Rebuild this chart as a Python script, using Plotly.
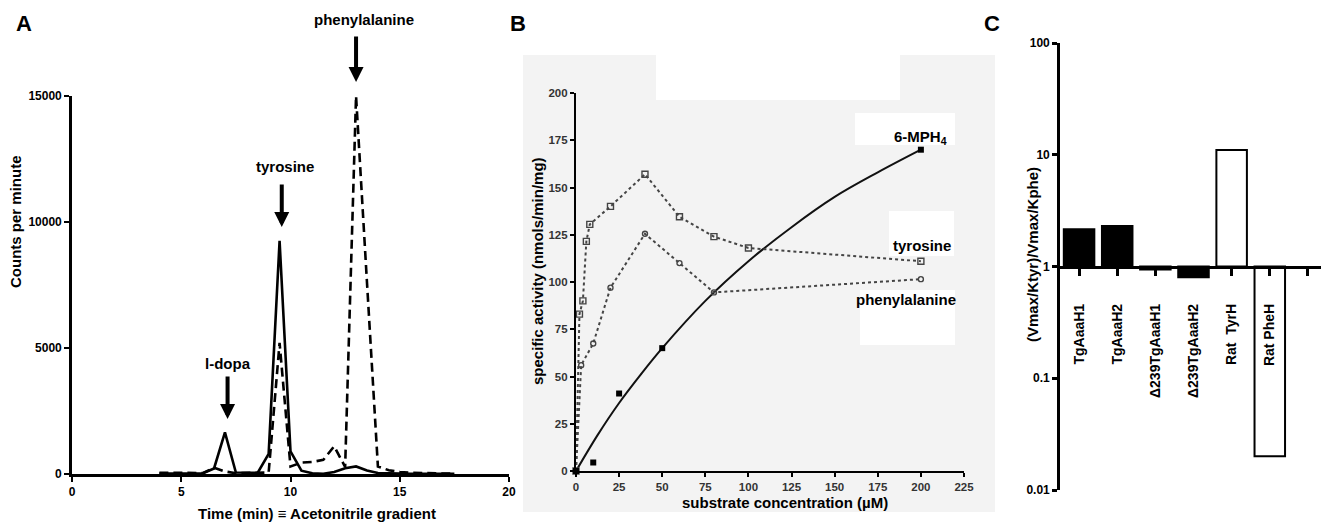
import plotly.graph_objects as go

# The page body has an 8px margin, so the figure is drawn 8px in from the window edge.
OFF = 8
W, H = 1329 - OFF, 526 - OFF
FONT = "Liberation Sans, Arial, sans-serif"


def fx(p):
    return (p - OFF) / W


def fy(p):
    return 1 - (p - OFF) / H


# ---------------- Panel A data (radio-HPLC trace) ----------------
time_min = [4.0, 4.5, 5.0, 5.5, 6.0, 6.5, 7.0, 7.5, 8.0, 8.5, 9.0, 9.5, 10.0, 10.5,
            11.0, 11.5, 12.0, 12.5, 13.0, 13.5, 14.0, 14.5, 15.0, 15.5, 16.0, 16.5, 17.0, 17.5]
cpm_solid = [20, 20, 20, 20, 30, 220, 1650, 60, 50, 50, 800, 9250, 900, 130,
             30, 10, 80, 230, 300, 140, 40, 20, 20, 10, 10, 20, 10, 10]
cpm_dashed = [50, 40, 40, 40, 40, 250, 100, 30, 40, 40, 60, 5200, 300, 450,
              480, 560, 1100, 280, 15000, 7600, 300, 150, 80, 50, 40, 50, 20, 10]
a_xticks = [0, 5, 10, 15, 20]
a_yticks = [0, 5000, 10000, 15000]

# ---------------- Panel B data (kinetics) ----------------
tyr_conc = [0, 2, 4, 6, 8, 20, 40, 60, 80, 100, 200]
tyr_act = [0, 83, 90, 121.5, 130.5, 140, 157, 134.5, 124, 118, 111]
phe_conc = [0, 3, 10, 20, 40, 60, 80, 200]
phe_act = [0, 56, 67.5, 97, 125.5, 110, 94.5, 101.5]
mph_conc = [0, 10, 25, 50, 200]
mph_act = [0, 4.5, 41, 65, 170]
fit_conc = [0, 12.5, 25, 37.5, 50, 75, 100, 125, 150, 175, 200]
fit_act = [0, 19, 36, 51, 65, 90, 111, 129, 145, 158, 170]
b_xticks = [0, 25, 50, 75, 100, 125, 150, 175, 200, 225]
b_yticks = [0, 25, 50, 75, 100, 125, 150, 175, 200]

# ---------------- Panel C data (specificity ratios) ----------------
enzymes = ["TgAaaH1", "TgAaaH2", "Δ239TgAaaH1", "Δ239TgAaaH2", "Rat  TyrH", "Rat PheH"]
ratio = [2.15, 2.3, 0.94, 0.80, 11.0, 0.02]
bar_fill = ["black", "black", "black", "black", "white", "white"]
c_yticks = [0.01, 0.1, 1, 10, 100]
c_yticklabels = ["0.01", "0.1", "1", "10", "100"]

fig = go.Figure()

# Panel A traces
fig.add_trace(go.Scatter(x=time_min, y=cpm_solid, mode="lines", xaxis="x", yaxis="y",
                         line=dict(color="black", width=2.6), cliponaxis=False, showlegend=False))
fig.add_trace(go.Scatter(x=time_min, y=cpm_dashed, mode="lines", xaxis="x", yaxis="y",
                         line=dict(color="black", width=2.6, dash="9px,5px"),
                         cliponaxis=False, showlegend=False))

# Panel B traces
fig.add_trace(go.Scatter(x=fit_conc, y=fit_act, mode="lines", xaxis="x2", yaxis="y2",
                         line=dict(color="#111", width=2, shape="spline"),
                         cliponaxis=False, showlegend=False))
fig.add_trace(go.Scatter(x=tyr_conc, y=tyr_act, mode="lines+markers", xaxis="x2", yaxis="y2",
                         line=dict(color="#444", width=2, dash="dot"),
                         marker=dict(symbol="square-open", size=6, color="#444",
                                     line=dict(width=1.4)),
                         cliponaxis=False, showlegend=False))
fig.add_trace(go.Scatter(x=phe_conc, y=phe_act, mode="lines+markers", xaxis="x2", yaxis="y2",
                         line=dict(color="#444", width=2, dash="dot"),
                         marker=dict(symbol="circle-open", size=5, color="#444",
                                     line=dict(width=1.4)),
                         cliponaxis=False, showlegend=False))
fig.add_trace(go.Scatter(x=mph_conc, y=mph_act, mode="markers", xaxis="x2", yaxis="y2",
                         marker=dict(symbol="square", size=6, color="black"),
                         cliponaxis=False, showlegend=False))

# Panel C bars (drawn from a base of 1 on the log axis)
positions = list(range(len(enzymes)))
fig.add_trace(go.Bar(x=positions, y=[r - 1 for r in ratio], base=[1] * len(ratio),
                     xaxis="x3", yaxis="y3", width=0.8,
                     marker=dict(color=bar_fill, line=dict(color="black", width=2)),
                     showlegend=False))

tickfont = dict(family=FONT, size=12, color="black", weight="bold")
common = dict(showgrid=False, zeroline=False, showline=True, linecolor="black",
              ticks="outside", tickcolor="black", fixedrange=True, automargin=False)

# Panel C axis geometry
c_dom = [fy(490), fy(43)]
c_range = [-2, 2]
c_base_pos = c_dom[0] + (0 - c_range[0]) / (c_range[1] - c_range[0]) * (c_dom[1] - c_dom[0])

fig.update_layout(
    width=W, height=H, margin=dict(l=0, r=0, t=0, b=0, pad=0, autoexpand=False),
    paper_bgcolor="white", plot_bgcolor="rgba(0,0,0,0)",
    font=dict(family=FONT, color="black"),
    xaxis=dict(domain=[fx(72), fx(509)], range=[0, 20], tickvals=a_xticks,
               ticktext=[str(v) for v in a_xticks], anchor="y",
               linewidth=2.6, tickwidth=2, ticklen=5, tickfont=tickfont, **common),
    yaxis=dict(domain=[fy(474), fy(96)], range=[0, 15000], tickvals=a_yticks,
               ticktext=[str(v) for v in a_yticks], anchor="x",
               linewidth=2.6, tickwidth=2, ticklen=5, tickfont=tickfont, **common),
    xaxis2=dict(domain=[fx(576), fx(964)], range=[0, 225], tickvals=b_xticks,
                ticktext=[str(v) for v in b_xticks], anchor="y2",
                linewidth=2.2, tickwidth=1.5, ticklen=4,
                tickfont=dict(family=FONT, size=11.5, color="#333", weight="bold"), **common),
    yaxis2=dict(domain=[fy(471), fy(93)], range=[0, 200], tickvals=b_yticks,
                ticktext=[str(v) for v in b_yticks], anchor="x2",
                linewidth=2.2, tickwidth=1.5, ticklen=4,
                tickfont=dict(family=FONT, size=11.5, color="#333", weight="bold"), **common),
    xaxis3=dict(domain=[fx(1060), fx(1327)], range=[-0.5, 6.5],
                tickvals=list(range(len(enzymes) + 1)), ticktext=enzymes + [""],
                tickangle=-90, anchor="free", position=c_base_pos,
                linewidth=2.6, tickwidth=2.5, ticklen=8, ticklabelstandoff=22,
                tickfont=dict(family=FONT, size=14, color="black", weight="bold"), **common),
    yaxis3=dict(domain=c_dom, type="log", range=c_range, tickvals=c_yticks,
                ticktext=c_yticklabels, anchor="x3",
                linewidth=2.6, tickwidth=2.5, ticklen=5, tickfont=tickfont, **common),
)


# Panel B light-grey scanned background
def rect(x0, y0, x1, y1, color):
    return dict(type="rect", xref="paper", yref="paper", x0=fx(x0), x1=fx(x1),
                y0=fy(y1), y1=fy(y0), fillcolor=color, line=dict(width=0), layer="below")


GREY = "#f3f3f3"
fig.update_layout(shapes=[
    rect(523, 100, 995, 512, GREY),
    rect(523, 55, 656, 100, GREY),
    rect(900, 55, 995, 100, GREY),
    rect(855, 113, 955, 145, "white"),
    rect(889, 211, 954, 256, "white"),
    rect(860, 290, 955, 345, "white"),
])

ann = []
bold = dict(family=FONT, color="black", weight="bold")


def label(x, y, text, size=15, angle=0):
    ann.append(dict(x=fx(x), y=fy(y), xref="paper", yref="paper", text=text,
                    showarrow=False, textangle=angle, xanchor="center", yanchor="middle",
                    font=dict(size=size, **bold)))


# panel letters
label(24, 23, "A", size=22)
label(518, 23, "B", size=22)
label(992, 23, "C", size=22)

# axis titles
label(15, 222, "Counts per minute", angle=-90)
label(317, 513, "Time (min) ≡ Acetonitrile gradient")
label(537, 271, "specific activity (nmols/min/mg)", angle=-90)
label(785, 502, "substrate concentration (µM)")
label(1032, 255, "(Vmax/Ktyr)/Vmax/Kphe)", angle=-90)

# panel A peak labels
label(364, 20, "phenylalanine")
label(285, 166, "tyrosine")
label(228, 363, "l-dopa")

# panel A arrows: x in data units, tip height in page px, shaft length in px
for xt, tip_px, length in [(13.0, 82, 47), (9.6, 227, 44), (7.12, 419, 44)]:
    ann.append(dict(x=xt, y=fy(tip_px), xref="x", yref="paper", ax=0, ay=-length, text="",
                    showarrow=True, arrowhead=2, arrowsize=0.75, arrowwidth=4,
                    arrowcolor="black"))

# panel B curve labels
label(920, 137, "6-MPH<sub>4</sub>")
label(922, 245, "tyrosine")
label(906, 299, "phenylalanine")

fig.update_layout(annotations=ann)

fig.write_html("out.html")
